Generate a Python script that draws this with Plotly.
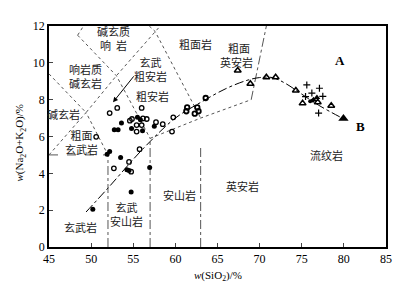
import plotly.graph_objects as go

# ---- data ----
open_circle_x = [52.2, 53.1, 56.0, 54.6, 54.85, 56.15, 56.6, 55.4, 56.0, 55.4, 57.7, 58.5, 59.6, 59.75, 50.6, 55.75, 54.5, 52.7, 54.75]
open_circle_y = [7.27, 7.55, 7.55, 6.86, 6.95, 6.98, 6.95, 6.62, 6.62, 6.27, 6.78, 6.67, 6.27, 7.04, 5.98, 5.31, 4.62, 4.27, 4.09]

filled_circle_x = [55.5, 55.85, 53.6, 54.8, 56.1, 52.75, 53.2, 57.5, 51.9, 52.2, 53.5, 54.25, 54.5, 56.95, 54.75, 50.2]
filled_circle_y = [7.04, 6.91, 6.73, 6.44, 6.31, 6.37, 6.37, 6.55, 5.04, 5.18, 4.86, 4.2, 4.15, 4.31, 2.98, 2.05]

ring_x = [61.4, 61.3, 62.6, 62.75, 62.3, 63.6]
ring_y = [7.58, 7.37, 7.58, 7.37, 7.24, 8.09]

open_tri_x = [67.4, 68.9, 70.8, 71.9, 74.3, 75.1, 76.9, 78.5]
open_tri_y = [9.58, 8.86, 9.22, 9.22, 8.5, 7.8, 7.86, 7.67]

filled_tri_x = [76.4, 76.8]
filled_tri_y = [8.0, 8.12]

big_tri_x = [79.95]
big_tri_y = [6.98]

plus_x = [75.6, 77.1, 76.2, 77.5, 75.45, 77.0]
plus_y = [8.8, 8.62, 8.36, 8.18, 8.17, 7.27]

dot_x = [76.0, 76.3]
dot_y = [7.92, 7.95]

# trend curve A-B
trend_x = [49.4, 52.0, 56.3, 60.0, 63.0, 66.0, 68.5, 70.0, 71.5, 73.0, 75.0, 77.0, 80.2]
trend_y = [1.9, 3.2, 5.4, 7.0, 7.85, 8.6, 9.05, 9.2, 9.2, 8.9, 8.3, 7.7, 6.9]

# TAS field boundaries
dotted_lines = [
    ([45.0, 49.4, 52.0], [5.0, 7.3, 5.0]),
    ([45.0, 49.4, 53.0, 57.6, 58.2], [9.4, 7.3, 9.3, 11.7, 12.0]),
    ([48.4, 53.0, 57.0], [11.5, 9.3, 5.9]),
    ([48.4, 49.1], [11.5, 12.0]),
    ([56.9, 57.6, 63.0], [12.0, 11.7, 7.0]),
    ([57.0, 63.0, 69.0], [5.9, 7.0, 8.0]),
]
dashdot_lines = [
    ([52.0, 52.0], [0.0, 5.0]),
    ([57.0, 57.0], [0.0, 5.9]),
    ([63.0, 63.0], [0.0, 5.4]),
    ([69.0, 70.8], [8.0, 12.0]),
]
dashed_lines = [
    ([45.0, 52.0], [5.0, 5.0]),
]

labels = [
    (52.6, 11.35, "碱玄质<br>响  岩"),
    (62.4, 11.0, "粗面岩"),
    (67.2, 10.45, "  粗面<br>英安岩"),
    (57.0, 9.65, "玄武<br>粗安岩"),
    (49.3, 9.3, "响岩质<br>碱玄岩"),
    (57.3, 8.2, "粗安岩"),
    (46.7, 7.2, "碱玄岩"),
    (48.8, 5.68, "粗面<br>玄武岩"),
    (48.7, 1.1, "玄武岩"),
    (54.2, 1.8, "玄武<br>安山岩"),
    (60.5, 2.85, "安山岩"),
    (68.0, 3.3, "英安岩"),
    (77.9, 5.0, "流纹岩"),
]

fig = go.Figure()

line_col = "#555555"
for xs, ys in dotted_lines:
    fig.add_trace(go.Scatter(x=xs, y=ys, mode="lines", line=dict(color=line_col, width=1, dash="dot"), hoverinfo="skip", showlegend=False))
for xs, ys in dashdot_lines:
    fig.add_trace(go.Scatter(x=xs, y=ys, mode="lines", line=dict(color=line_col, width=1, dash="dashdot"), hoverinfo="skip", showlegend=False))
for xs, ys in dashed_lines:
    fig.add_trace(go.Scatter(x=xs, y=ys, mode="lines", line=dict(color=line_col, width=1, dash="dash"), hoverinfo="skip", showlegend=False))

fig.add_trace(go.Scatter(x=trend_x, y=trend_y, mode="lines", line=dict(color="black", width=1, dash="dashdot", shape="spline"), showlegend=False))

fig.add_trace(go.Scatter(x=open_circle_x, y=open_circle_y, mode="markers",
                         marker=dict(symbol="circle-open", size=4.5, color="black", line=dict(width=1.3)), showlegend=False))
fig.add_trace(go.Scatter(x=filled_circle_x, y=filled_circle_y, mode="markers",
                         marker=dict(symbol="circle", size=5, color="black"), showlegend=False))
fig.add_trace(go.Scatter(x=ring_x, y=ring_y, mode="markers",
                         marker=dict(symbol="circle-open", size=4.5, color="black", line=dict(width=1.8)), showlegend=False))
fig.add_trace(go.Scatter(x=open_tri_x, y=open_tri_y, mode="markers",
                         marker=dict(symbol="triangle-up-open", size=6, color="black", line=dict(width=1.5)), showlegend=False))
fig.add_trace(go.Scatter(x=filled_tri_x, y=filled_tri_y, mode="markers",
                         marker=dict(symbol="triangle-up", size=6, color="black"), showlegend=False))
fig.add_trace(go.Scatter(x=big_tri_x, y=big_tri_y, mode="markers",
                         marker=dict(symbol="triangle-up", size=9, color="black"), showlegend=False))
fig.add_trace(go.Scatter(x=plus_x, y=plus_y, mode="markers",
                         marker=dict(symbol="cross-thin-open", size=5, color="black", line=dict(width=1.2)), showlegend=False))
fig.add_trace(go.Scatter(x=dot_x, y=dot_y, mode="markers",
                         marker=dict(symbol="circle", size=4, color="black"), showlegend=False))

cjk = "Noto Sans CJK SC"
for x, y, t in labels:
    fig.add_annotation(x=x, y=y, text=t, showarrow=False, font=dict(family=cjk, size=11, color="#222"), align="center")

fig.add_annotation(x=79.5, y=10.15, text="<b>A</b>", showarrow=False, font=dict(family="Liberation Serif", size=13, color="black"))
fig.add_annotation(x=82.0, y=6.55, text="<b>B</b>", showarrow=False, font=dict(family="Liberation Serif", size=13, color="black"))

fig.add_annotation(x=52.6, y=7.86, ax=55.2, ay=9.35, axref="x", ayref="y", xref="x", yref="y",
                   text="", showarrow=True, arrowhead=2, arrowsize=1, arrowwidth=1, arrowcolor="black")

serif = "Liberation Serif"
# axis titles as paper annotations
fig.add_annotation(x=0.5, y=-0.13, xref="paper", yref="paper", yanchor="middle", showarrow=False,
                   text="<i>w</i>(SiO<sub>2</sub>)/%", font=dict(family=serif, size=11, color="black"))
fig.add_annotation(x=-0.085, y=0.47, xref="paper", yref="paper", xanchor="center", showarrow=False, textangle=-90,
                   text="<i>w</i>(Na<sub>2</sub>O+K<sub>2</sub>O)/%", font=dict(family=serif, size=11, color="black"))

fig.update_xaxes(range=[45, 85], tickvals=[45, 50, 55, 60, 65, 70, 75, 80, 85], ticks="inside", ticklen=4,
                 showline=True, linecolor="black", linewidth=1.5, mirror=True, showgrid=False, zeroline=False,
                 automargin=False, tickfont=dict(family=serif, size=12, color="black"))
fig.update_yaxes(range=[0, 12], tickvals=[0, 2, 4, 6, 8, 10, 12], ticks="inside", ticklen=4,
                 showline=True, linecolor="black", linewidth=1.5, mirror=True, showgrid=False, zeroline=False,
                 automargin=False, tickfont=dict(family=serif, size=12, color="black"))

fig.update_layout(width=401, height=283, margin=dict(l=41, r=23, t=18, b=44),
                  plot_bgcolor="white", paper_bgcolor="white")

fig.write_html("out.html")
